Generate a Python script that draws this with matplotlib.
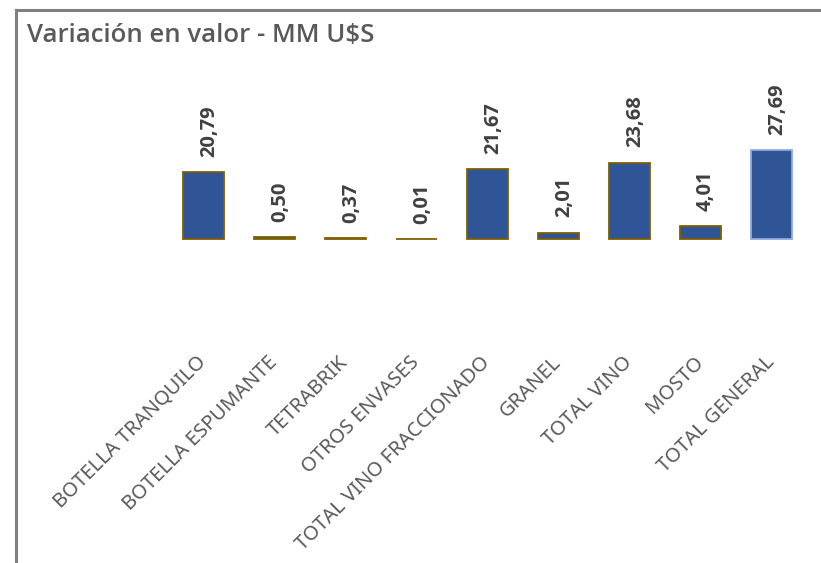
import matplotlib
matplotlib.use("Agg")
import matplotlib.pyplot as plt
from matplotlib.lines import Line2D
from matplotlib import font_manager as fm

# datos
categorias = ['BOTELLA TRANQUILO', 'BOTELLA ESPUMANTE', 'TETRABRIK', 'OTROS ENVASES',
              'TOTAL VINO FRACCIONADO', 'GRANEL', 'TOTAL VINO', 'MOSTO', 'TOTAL GENERAL']
valores = [20.79, 0.50, 0.37, 0.01, 21.67, 2.01, 23.68, 4.01, 27.69]
etiquetas = ['20,79', '0,50', '0,37', '0,01', '21,67', '2,01', '23,68', '4,01', '27,69']


def buscar_fuente(familia, pesos):
    # busca un archivo de la familia con ancho normal y el peso pedido
    for f in fm.fontManager.ttflist:
        if f.name == familia and f.stretch == 'normal' and f.weight in pesos \
                and f.style == 'normal':
            return fm.FontProperties(fname=f.fname)
    return fm.FontProperties(family='DejaVu Sans', weight='bold')


fp_bold = buscar_fuente('Open Sans', (700, 'bold'))
fp_semi = buscar_fuente('Open Sans', (600, 'semibold', 'demibold'))

W, H = 821, 563
fig = plt.figure(figsize=(W / 100, H / 100), dpi=100)
fig.patch.set_facecolor('white')

# area del grafico (en pixeles)
left, right, top, bottom = 168, 807, 80, 354
ax = fig.add_axes([left / W, 1 - bottom / H, (right - left) / W, (bottom - top) / H])

bordes = ['#7F6000'] * (len(valores) - 1) + ['#8FAADC']
x = list(range(len(valores)))
ax.bar(x, valores, width=0.58, color='#2F5597', edgecolor=bordes, linewidth=1.3)

ax.set_xlim(-0.5, len(valores) - 0.5)
ax.set_ylim(-(bottom - 239) / 3.22, (239 - top) / 3.22)

fp_num = fp_bold.copy()
fp_num.set_size(14.5)
for xi, v, t in zip(x, valores, etiquetas):
    ax.annotate(t, (xi, v), xytext=(4, 11), textcoords='offset points',
                rotation=90, ha='center', va='bottom', fontproperties=fp_num,
                color='#404040')

ax.set_xticks(x)
ax.set_xticklabels(categorias, rotation=45, ha='right', va='center',
                   rotation_mode='anchor', fontsize=14.5, color='#595959',
                   family='Noto Sans')
ax.tick_params(axis='x', length=0, pad=4)
ax.set_yticks([])
for s in ax.spines.values():
    s.set_visible(False)

# titulo
fp_tit = fp_semi.copy()
fp_tit.set_size(18.5)
fig.text(27 / W, 1 - 36 / H, 'Variación en valor - MM U$S', fontproperties=fp_tit,
         color='#595959', va='center')

# borde del grafico recortado
fig.add_artist(Line2D([16 / W, 16 / W], [0, 1 - 10 / H], color='#808080', lw=2.2,
                      transform=fig.transFigure, solid_capstyle='projecting'))
fig.add_artist(Line2D([16 / W, 1], [1 - 10 / H, 1 - 10 / H], color='#808080', lw=2.2,
                      transform=fig.transFigure, solid_capstyle='projecting'))

fig.savefig('out.png', dpi=100)
